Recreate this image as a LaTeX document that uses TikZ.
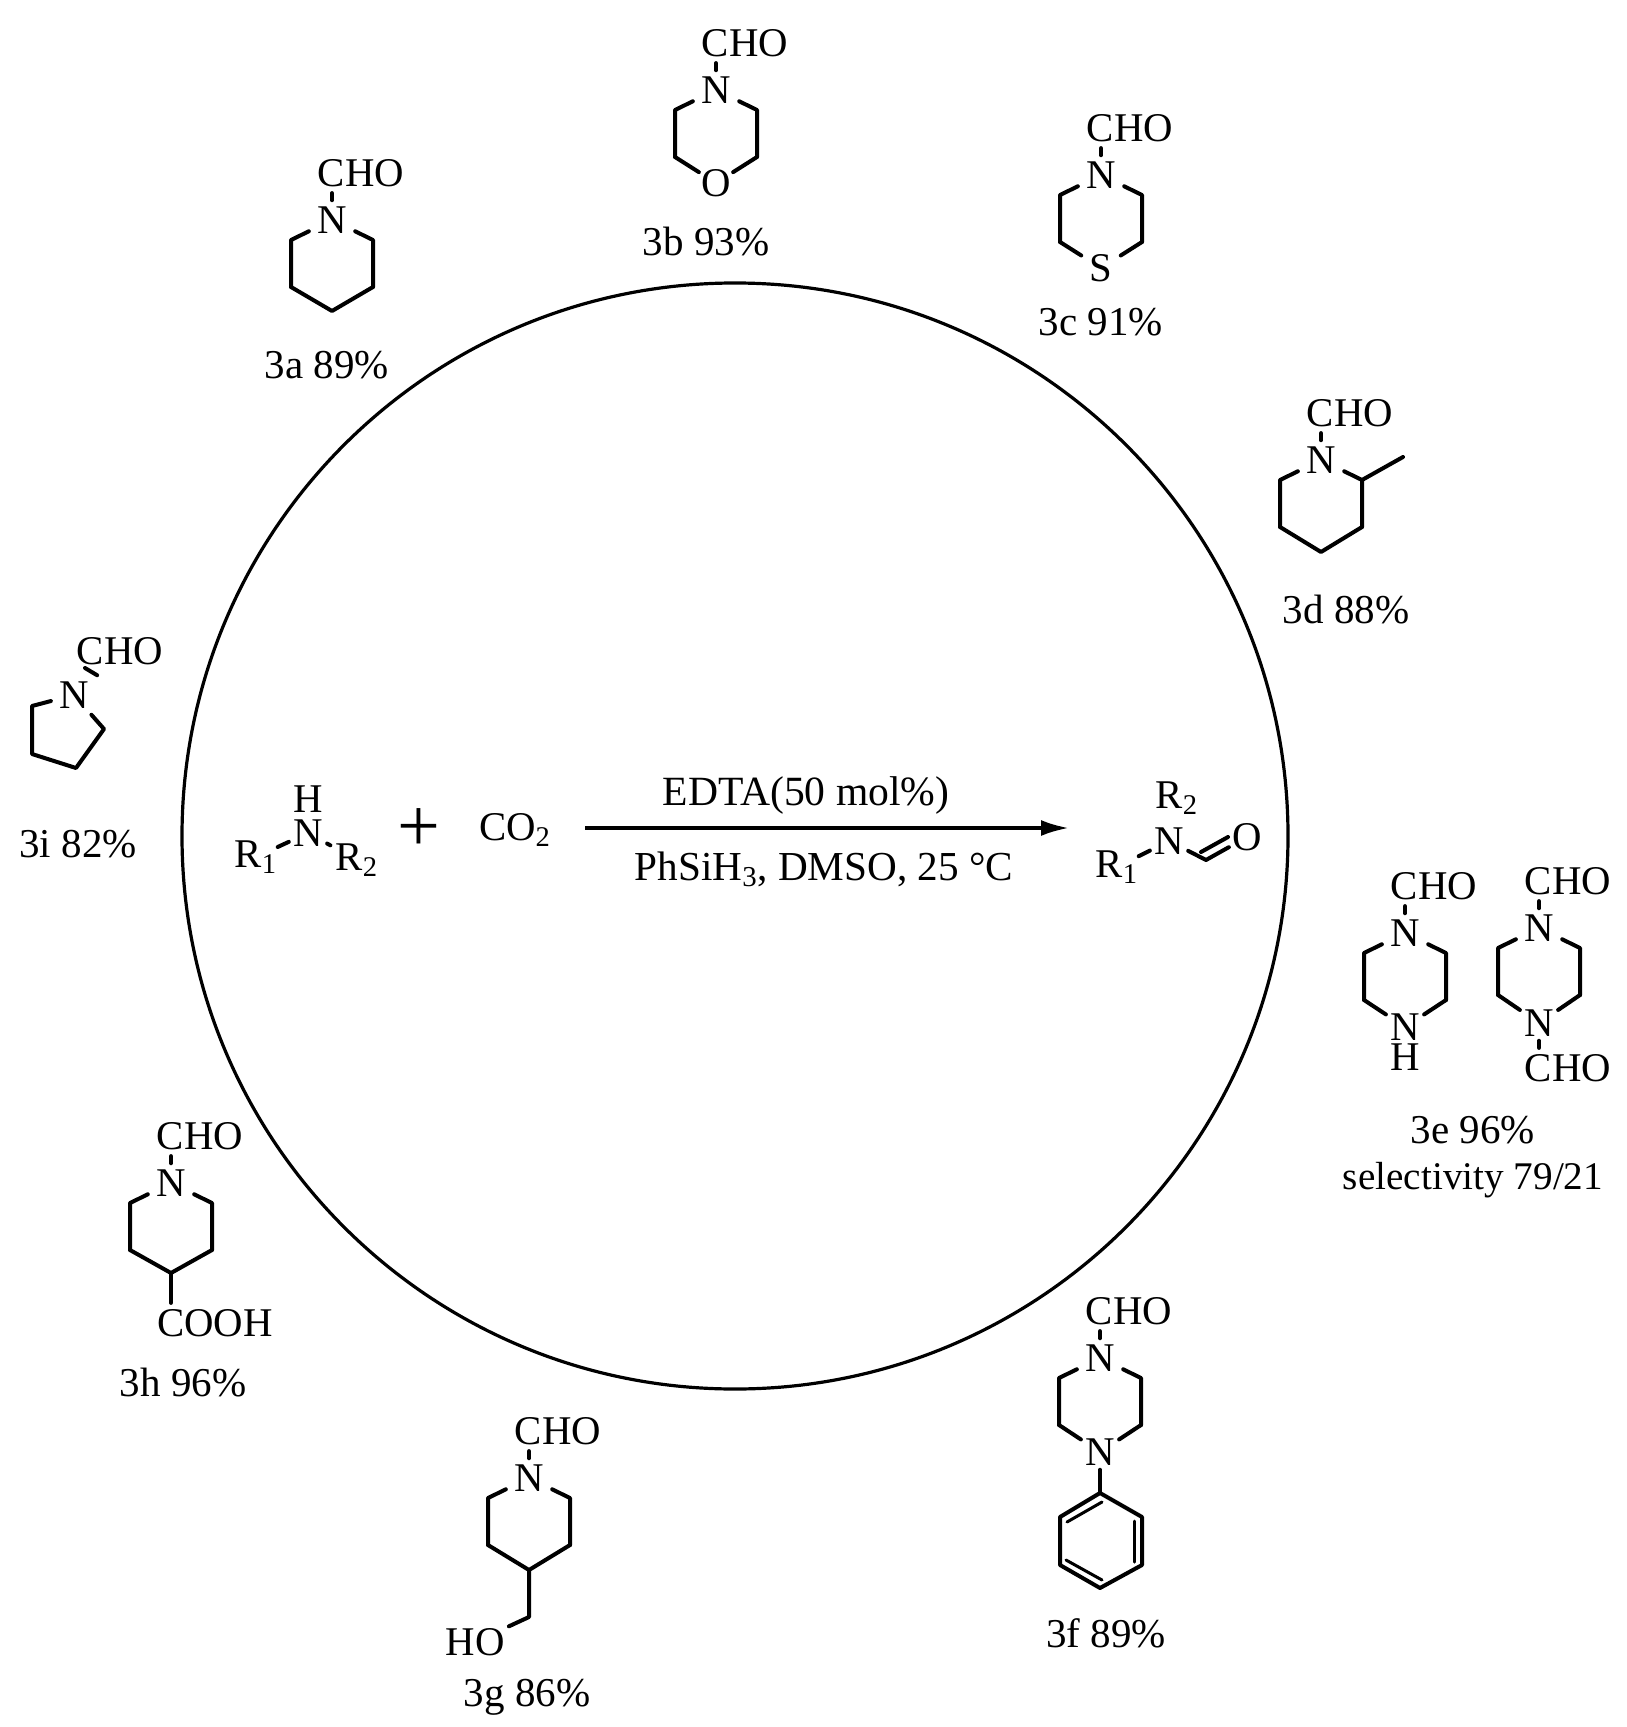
\documentclass[tikz,border=0pt]{standalone}
\usepackage{fontspec}
\setmainfont{Liberation Serif}
\usetikzlibrary{calc, arrows.meta}

\tikzset{
  atom/.style={inner sep=3pt,font=\fontsize{20.4}{24}\selectfont},
  rgroup/.style={inner sep=0pt,font=\fontsize{20.4}{24}\selectfont},
  yieldlabel/.style={inner sep=0pt,font=\fontsize{20.5}{24}\selectfont},
  bond/.style={line width=2pt,line cap=round,line join=round},
  thinbond/.style={line width=1.5pt,line cap=round},
}

% N-formyl ring, open at the foot: name, position of N
\newcommand{\formylring}[2]{
  \begin{scope}[shift={(#2)}]
    \node [atom,inner xsep=4pt] (#1N) at (0,0) {N};
    \node [atom] (#1CHO) at (29,-47) {CHO};
    \coordinate (#1a) at (-41,20);
    \coordinate (#1b) at (-41,67);
    \coordinate (#1d) at (41,67);
    \coordinate (#1e) at (41,20);
  \end{scope}
  \draw [bond] (#1N.north) -- (#1N.north |- #1CHO.south);
  \draw [bond] (#1N) -- (#1a) -- (#1b);
  \draw [bond] (#1N) -- (#1e) -- (#1d);
}

\begin{document}
\begin{tikzpicture}[x=.5pt,y=-.5pt]
\useasboundingbox (0,0) rectangle (1626,1727);
\draw [line width=1.6pt] (735,836) circle [radius=553];

% reaction
\node [rgroup] (amR1) at (256,857) {R\textsubscript{1}};
\node [atom,inner sep=2pt] (amN) at (308,833) {N};
\node [rgroup] (amH) at (308,799) {H};
\node [rgroup,inner sep=2.5pt] (amR2) at (357,860) {R\textsubscript{2}};
\draw [bond] (amR1) -- (amN);
\draw [bond] (amN) -- (amR2);
\node [rgroup,font=\fontsize{38}{40}\selectfont] (plus) at (419,830) {+};
\node [rgroup] (co2) at (515,830) {CO\textsubscript{2}};
\coordinate (arrowL) at (585,828);
\coordinate (arrowR) at (1069,828);
\draw [line width=1.8pt,-{Latex[length=14pt,width=8pt]}] (arrowL) -- (arrowR);
\node [rgroup,font=\fontsize{20.8}{24}\selectfont] (edta) at (806,795) {EDTA(50 mol\%)};
\node [rgroup,font=\fontsize{20.6}{24}\selectfont] (cond) at (824,869) {PhSiH\textsubscript{3}, DMSO, 25 °C};

\node [rgroup] (prR1) at (1117,867) {R\textsubscript{1}};
\node [atom,inner sep=2pt] (prN) at (1169,841) {N};
\node [rgroup] (prR2) at (1177,798) {R\textsubscript{2}};
\node [atom,inner sep=1.5pt] (prO) at (1247,837) {O};
\coordinate (prC) at (1206,860);
\coordinate (prCa) at (1201,852);
\coordinate (prOa) at (1228,837);
\draw [bond] (prR1) -- (prN);
\draw [bond] (prN) -- (prC) -- (prO);
\draw [bond] (prCa) -- (prOa);

% 3a
\formylring{pip}{332,220}
\coordinate (pipc) at (332,311);
\draw [bond] (pipb) -- (pipc) -- (pipd);
\node [yieldlabel] (lab3a) at (327,365) {3a 89\%};

% 3b
\formylring{mor}{716,90}
\node [atom,inner sep=1pt] (morO) at (716,183) {O};
\draw [bond] (morb) -- (morO) -- (mord);
\node [yieldlabel] (lab3b) at (706,242) {3b 93\%};

% 3c
\formylring{thi}{1101,175}
\node [atom,inner sep=4pt] (thiS) at (1101,268) {S};
\draw [bond] (thib) -- (thiS) -- (thid);
\node [yieldlabel] (lab3c) at (1101,322) {3c 91\%};

% 3d
\formylring{mep}{1321,460}
\coordinate (mepc) at (1321,552);
\coordinate (mepme) at (1403,457);
\draw [bond] (mepb) -- (mepc) -- (mepd);
\draw [bond] (mepe) -- (mepme);
\node [yieldlabel] (lab3d) at (1346,610) {3d 88\%};

% 3e
\formylring{pza}{1405,933}
\node [atom,inner sep=2pt] (pzaN2) at (1405,1027) {N};
\node [rgroup] (pzaH) at (1405,1057) {H};
\draw [bond] (pzab) -- (pzaN2) -- (pzad);
\formylring{pzb}{1539,928}
\node [atom,inner sep=2pt] (pzbN2) at (1539,1023) {N};
\node [atom] (pzbCHO2) at (1568,1068) {CHO};
\draw [bond] (pzbb) -- (pzbN2) -- (pzbd);
\draw [bond] (pzbN2.south) -- (pzbN2.south |- pzbCHO2.north);
\node [yieldlabel] (lab3e) at (1473,1130) {3e 96\%};
\node [yieldlabel,font=\fontsize{19.6}{24}\selectfont] (sel3e) at (1473,1180) {selectivity 79/21};

% 3f
\formylring{phz}{1100,1358}
\node [atom,inner sep=2pt] (phzN2) at (1100,1452) {N};
\draw [bond] (phzb) -- (phzN2) -- (phzd);
\coordinate (pha) at (1100,1493);
\coordinate (phb) at (1142,1517);
\coordinate (phc) at (1142,1565);
\coordinate (phd) at (1100,1588);
\coordinate (phe) at (1060,1565);
\coordinate (phf) at (1060,1517);
\draw [bond] (phzN2) -- (pha);
\draw [bond] (pha) -- (phb) -- (phc) -- (phd) -- (phe) -- (phf) -- cycle;
\draw [thinbond] (1067,1522) -- (1102,1502);
\draw [thinbond] (1134,1521) -- (1134,1562);
\draw [thinbond] (1066,1560) -- (1102,1580);
\node [yieldlabel] (lab3f) at (1106,1633) {3f 89\%};

% 3g
\formylring{hyd}{529,1478}
\coordinate (hydc) at (529,1570);
\coordinate (hydch) at (529,1617);
\node [atom,inner sep=2pt] (hydHO) at (475,1642) {HO};
\draw [bond] (hydb) -- (hydc) -- (hydd);
\draw [bond] (hydc) -- (hydch) -- (hydHO);
\node [yieldlabel] (lab3g) at (527,1697) {3g 86\%};

% 3h
\formylring{acd}{171,1183}
\coordinate (acdc) at (171,1273);
\node [atom] (acdCOOH) at (215,1323) {COOH};
\draw [bond] (acdb) -- (acdc) -- (acdd);
\draw [bond] (acdc) -- (acdc |- acdCOOH.north);
\node [yieldlabel] (lab3h) at (183,1383) {3h 96\%};

% 3i
\node [atom,inner xsep=4pt] (pyrN) at (74,695) {N};
\node [atom] (pyrCHO) at (120,651) {CHO};
\coordinate (pyra) at (32,706);
\coordinate (pyrb) at (32,754);
\coordinate (pyrc) at (76,768);
\coordinate (pyrd) at (104,729);
\coordinate (pyrtop) at (85,668);
\draw [bond] (pyrN) -- (pyra) -- (pyrb) -- (pyrc) -- (pyrd) -- (pyrN);
\draw [bond] (pyrN.north east) -- (pyrtop);
\node [yieldlabel] (lab3i) at (78,844) {3i 82\%};
\end{tikzpicture}
\end{document}
